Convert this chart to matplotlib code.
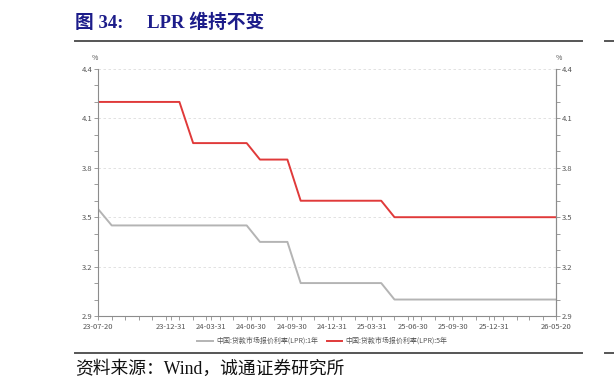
import matplotlib
matplotlib.use("Agg")
import matplotlib.pyplot as plt
from matplotlib.lines import Line2D
import pandas as pd

plt.rcParams['font.family'] = ['Noto Sans CJK SC', 'DejaVu Sans']

# ---- data ----
dates = pd.date_range('2023-07-01', '2026-05-01', freq='MS') + pd.Timedelta(days=19)
lpr_1y = [3.55, 3.45, 3.45, 3.45, 3.45, 3.45, 3.45, 3.45, 3.45, 3.45, 3.45, 3.45,
          3.35, 3.35, 3.35, 3.10, 3.10, 3.10, 3.10, 3.10, 3.10, 3.10,
          3.00, 3.00, 3.00, 3.00, 3.00, 3.00, 3.00, 3.00, 3.00, 3.00, 3.00, 3.00, 3.00]
lpr_5y = [4.20, 4.20, 4.20, 4.20, 4.20, 4.20, 4.20, 3.95, 3.95, 3.95, 3.95, 3.95,
          3.85, 3.85, 3.85, 3.60, 3.60, 3.60, 3.60, 3.60, 3.60, 3.60,
          3.50, 3.50, 3.50, 3.50, 3.50, 3.50, 3.50, 3.50, 3.50, 3.50, 3.50, 3.50, 3.50]
x_tick_dates = ['2023-07-20', '2023-12-31', '2024-03-31', '2024-06-30', '2024-09-30',
                '2024-12-31', '2025-03-31', '2025-06-30', '2025-09-30', '2025-12-31', '2026-05-20']
x_tick_labels = ['23-07-20', '23-12-31', '24-03-31', '24-06-30', '24-09-30',
                 '24-12-31', '25-03-31', '25-06-30', '25-09-30', '25-12-31', '26-05-20']
y_ticks = [2.9, 3.2, 3.5, 3.8, 4.1, 4.4]
label_1y = '中国:贷款市场报价利率(LPR):1年'
label_5y = '中国:贷款市场报价利率(LPR):5年'
title = '图 34:     LPR 维持不变'
source = '资料来源：Wind，诚通证券研究所'

W, H = 614, 392
fig = plt.figure(figsize=(W/100, H/100), dpi=100)
ax = fig.add_axes([98/W, 1-316/H, (556-98)/W, (316-69)/H])

axis_col = '#8c8c8c'
text_col = '#555555'

ax.plot(dates, lpr_1y, color='#b4b4b4', lw=1.4, label=label_1y)
ax.plot(dates, lpr_5y, color='#e03a3a', lw=1.4, label=label_5y)

ax.set_xlim(dates[0], dates[-1])
ax.set_ylim(2.9, 4.4)

ax.set_yticks(y_ticks)
ax.set_yticklabels([f'{v:.1f}' for v in y_ticks])
ax.set_yticks([2.9 + 0.1*i for i in range(16)], minor=True)
ax.tick_params(axis='y', which='both', colors=axis_col, labelcolor=text_col,
               labelsize=5.5, length=3, width=0.6, pad=1)

ax.set_xticks(pd.to_datetime(x_tick_dates))
ax.set_xticklabels(x_tick_labels)
ax.set_xticks(dates, minor=True)
ax.tick_params(axis='x', which='both', colors=axis_col, labelcolor=text_col,
               labelsize=5.5, length=3, width=0.6, pad=2)

ax.spines['top'].set_visible(False)
for s in ['left', 'right', 'bottom']:
    ax.spines[s].set_color(axis_col)
    ax.spines[s].set_linewidth(0.8)

ax.grid(axis='y', which='major', color='#dddddd', ls=(0, (3, 3)), lw=0.6)
ax.set_axisbelow(True)

# right axis
ax2 = ax.twinx()
ax2.set_ylim(2.9, 4.4)
ax2.set_yticks(y_ticks)
ax2.set_yticklabels([f'{v:.1f}' for v in y_ticks])
ax2.set_yticks([2.9 + 0.1*i for i in range(16)], minor=True)
ax2.tick_params(axis='y', which='both', colors=axis_col, labelcolor=text_col,
                labelsize=5.5, length=3, width=0.6, pad=1)
for s in ['top', 'left', 'bottom']:
    ax2.spines[s].set_visible(False)
ax2.spines['right'].set_color(axis_col)
ax2.spines['right'].set_linewidth(0.8)

fig.text(98/W, 1-58/H, '%', fontsize=5, color=text_col, ha='right', va='center')
fig.text(556/W, 1-58/H, '%', fontsize=5, color=text_col, ha='left', va='center')

# legend
leg = fig.legend(loc='center', bbox_to_anchor=(0.525, 1-341/H), ncol=2, frameon=False,
                 fontsize=5, handlelength=2.2, handletextpad=0.5, columnspacing=1.2)
for t in leg.get_texts():
    t.set_color(text_col)

# title & decorations
serif_cjk = ['Liberation Serif', 'Noto Sans CJK SC']
fig.text(75/W, 1-23/H, title, fontsize=13.5, fontweight='bold', color='#1c1c8a',
         family=serif_cjk, ha='left', va='center')
fig.add_artist(Line2D([75/W, 582/W], [1-41/H, 1-41/H], color='#555555', lw=1.4))
fig.add_artist(Line2D([605/W, 1.0], [1-41/H, 1-41/H], color='#555555', lw=1.4))
fig.add_artist(Line2D([75/W, 582/W], [1-353/H, 1-353/H], color='#555555', lw=1.4))
fig.add_artist(Line2D([605/W, 1.0], [1-353/H, 1-353/H], color='#555555', lw=1.4))
fig.text(75/W, 1-369/H, source, fontsize=12.8, color='#111111',
         family=serif_cjk, ha='left', va='center')

fig.savefig('out.png', dpi=100)
